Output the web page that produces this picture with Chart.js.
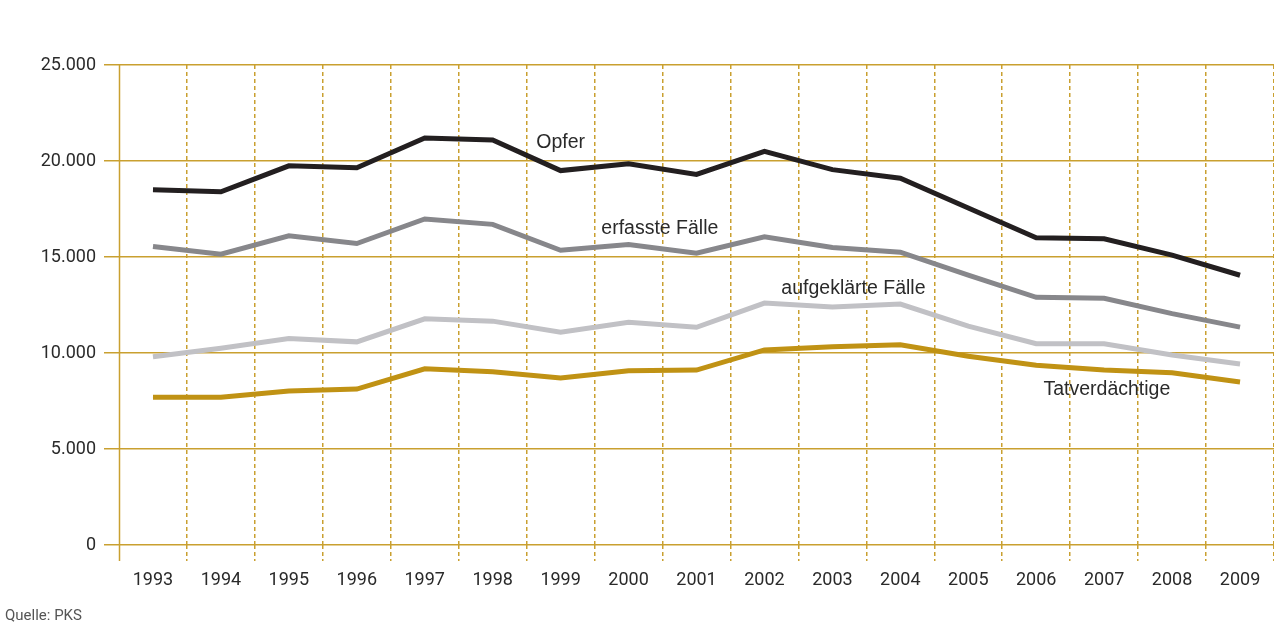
<!DOCTYPE html>
<html>
<head>
<meta charset="utf-8">
<script src="https://cdn.jsdelivr.net/npm/chart.js@4/dist/chart.umd.min.js"></script>
<style>
  html, body { margin: 0; padding: 0; background: #fff; }
  #wrap { position: relative; width: 1274px; height: 635px; }
  #source { position: absolute; left: 5px; top: 606px; font: 15px Roboto, "Liberation Sans", sans-serif; color: #555; }
</style>
</head>
<body>
<div id="wrap">
  <canvas id="c" width="1274" height="635"></canvas>
  <div id="source">Quelle: PKS</div>
</div>
<script>
const years = ["1993","1994","1995","1996","1997","1998","1999","2000","2001","2002","2003","2004","2005","2006","2007","2008","2009"];
const opfer = [18500,18400,19750,19650,21200,21100,19500,19850,19300,20500,19550,19100,17550,16000,15950,15100,14050];
const erfassteFaelle = [15550,15150,16100,15700,16980,16700,15350,15650,15200,16050,15500,15250,14050,12900,12850,12050,11350];
const aufgeklaerteFaelle = [9800,10250,10750,10580,11780,11660,11080,11600,11340,12600,12400,12550,11400,10480,10480,9900,9430];
const tatverdaechtige = [7700,7700,8020,8120,9180,9020,8700,9070,9110,10160,10330,10430,9830,9360,9120,8970,8490];
const yTicks = [0,5000,10000,15000,20000,25000];

const GOLD = '#c9a030';
const labelDefs = [
  {text: 'Opfer', x: 6.0, y: 20940},
  {text: 'erfasste Fälle', x: 7.46, y: 16460},
  {text: 'aufgeklärte Fälle', x: 10.31, y: 13330},
  {text: 'Tatverdächtige', x: 14.04, y: 8070}
];

const extras = {
  id: 'extras',
  beforeDatasetsDraw(chart) {
    const {ctx, chartArea} = chart;
    ctx.save();
    ctx.strokeStyle = GOLD;
    ctx.lineWidth = 1.5;
    ctx.beginPath();
    ctx.moveTo(chartArea.left + 0.5, chartArea.top);
    ctx.lineTo(chartArea.left + 0.5, chartArea.bottom + 16);
    ctx.stroke();
    ctx.restore();
  },
  afterDatasetsDraw(chart) {
    const {ctx, scales} = chart;
    ctx.save();
    ctx.font = '19.5px "Liberation Sans", Arial, sans-serif';
    ctx.fillStyle = '#2a2a2a';
    ctx.textAlign = 'center';
    ctx.textBaseline = 'middle';
    labelDefs.forEach(l => {
      ctx.fillText(l.text, scales.x.getPixelForValue(l.x), scales.y.getPixelForValue(l.y));
    });
    ctx.restore();
  }
};

const fontTick = {family: 'Roboto, "Liberation Sans", sans-serif', size: 18};

new Chart(document.getElementById('c'), {
  type: 'line',
  data: {
    labels: years,
    datasets: [
      {label: 'Opfer', data: opfer, borderColor: '#231f20'},
      {label: 'erfasste Fälle', data: erfassteFaelle, borderColor: '#87878b'},
      {label: 'aufgeklärte Fälle', data: aufgeklaerteFaelle, borderColor: '#c1c1c5'},
      {label: 'Tatverdächtige', data: tatverdaechtige, borderColor: '#c09214'}
    ].map(d => Object.assign(d, {borderWidth: 5, pointRadius: 0, tension: 0, fill: false, borderJoinStyle: 'miter'}))
  },
  options: {
    responsive: false,
    animation: false,
    devicePixelRatio: 1,
    layout: {padding: {top: 65, right: 0, bottom: 38, left: 0}},
    plugins: {legend: {display: false}, tooltip: {enabled: false}},
    scales: {
      x: {
        offset: true,
        afterFit(scale) { scale.height = 52; },
        grid: {
          offset: true,
          color: ctx => (ctx.index === 0 || ctx.index === years.length) ? 'rgba(0,0,0,0)' : GOLD,
          lineWidth: 1.5,
          drawTicks: true,
          tickLength: 16,
          tickBorderDash: [4, 3],
          tickColor: ctx => (ctx.index === 0 || ctx.index === years.length) ? 'rgba(0,0,0,0)' : GOLD
        },
        border: {display: false, dash: [4, 3]},
        ticks: {color: '#2a2a2a', font: fontTick, padding: 9, maxRotation: 0, autoSkip: false}
      },
      y: {
        min: 0,
        max: 25000,
        afterFit(scale) { scale.width = 119; },
        afterBuildTicks(scale) { scale.ticks = yTicks.map(v => ({value: v})); },
        grid: {color: GOLD, lineWidth: 1.5, drawTicks: true, tickLength: 15, tickColor: GOLD},
        border: {display: false},
        ticks: {
          color: '#2a2a2a', font: fontTick, padding: 8,
          callback: v => v === 0 ? '0' : v.toLocaleString('de-DE')
        }
      }
    }
  },
  plugins: [extras]
});
</script>
</body>
</html>
